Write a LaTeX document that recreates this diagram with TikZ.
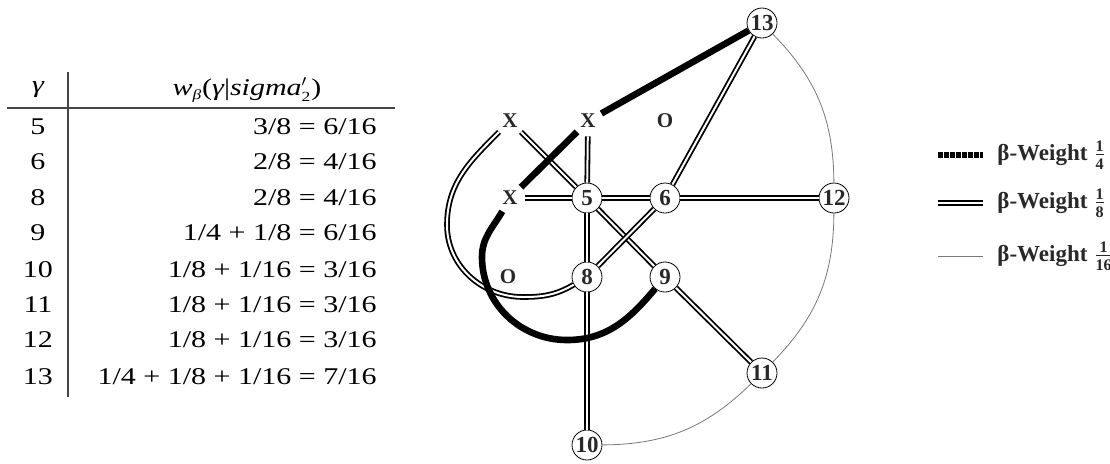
\documentclass[tikz,border=0pt]{standalone}
\usepackage{amsmath}
\usepackage{fontspec}
\setmainfont{Liberation Serif}
\newfontfamily\tabfont[FakeStretch=1.25]{Liberation Serif}
\usetikzlibrary{calc}
\definecolor{labelGray}{RGB}{40,40,40}
\definecolor{arcGray}{RGB}{120,120,120}
\definecolor{ruleGray}{RGB}{70,70,70}
\tikzset{
  vtx/.style={circle, draw, thin, fill=white, minimum size=15pt, inner sep=0pt, font=\bfseries\fontsize{11.5}{13}\selectfont, text=labelGray},
  xo/.style={circle, minimum size=15pt, inner sep=0pt, font=\bfseries\fontsize{10.5}{12}\selectfont, text=labelGray},
  wquarter/.style={line width=3.3pt},
  weighth/.style={double, double distance=1pt, line width=0.9pt},
  wsixteenth/.style={draw=arcGray, line width=0.4pt},
  tab/.style={font=\tabfont\fontsize{12}{14}\selectfont, inner sep=0pt},
  legtext/.style={anchor=west, inner sep=0pt, font=\bfseries\fontsize{11.5}{13}\selectfont, text=labelGray}
}

\begin{document}
\begin{tikzpicture}[x=0.5pt,y=0.5pt]
  \useasboundingbox (0,0) rectangle (1110,-463);

  % table of weights
  \node[tab] (hg) at (38,-90) {\itshape γ};
  \node[tab] (hw) at (247,-90) {\itshape w$_{\mbox{\scriptsize\itshape β}}$\upshape(\itshape γ\upshape|\itshape sigma$'_{\mbox{\scriptsize\upshape 2}}$\upshape)};
  \draw[ruleGray, line width=0.6pt] (7,-108) -- (395,-108);
  \draw[ruleGray, line width=0.6pt] (68,-72) -- (68,-397);

  \node[tab] (g5) at (38,-127) {5};
  \node[tab] (g6) at (38,-162) {6};
  \node[tab] (g8) at (38,-198) {8};
  \node[tab] (g9) at (38,-233) {9};
  \node[tab] (g10) at (38,-270) {10};
  \node[tab] (g11) at (38,-305) {11};
  \node[tab] (g12) at (38,-340) {12};
  \node[tab] (g13) at (38,-377) {13};

  \node[tab, anchor=east] (w5) at (377,-127) {3/8 = 6/16};
  \node[tab, anchor=east] (w6) at (377,-162) {2/8 = 4/16};
  \node[tab, anchor=east] (w8) at (377,-198) {2/8 = 4/16};
  \node[tab, anchor=east] (w9) at (377,-233) {1/4 + 1/8 = 6/16};
  \node[tab, anchor=east] (w10) at (377,-270) {1/8 + 1/16 = 3/16};
  \node[tab, anchor=east] (w11) at (377,-305) {1/8 + 1/16 = 3/16};
  \node[tab, anchor=east] (w12) at (377,-340) {1/8 + 1/16 = 3/16};
  \node[tab, anchor=east] (w13) at (377,-377) {1/4 + 1/8 + 1/16 = 7/16};

  % graph
  \node[xo] (x1) at (510,-121) {X};
  \node[xo] (x2) at (588,-121) {X};
  \node[xo] (otop) at (665,-121) {O};
  \node[xo] (x3) at (510,-198) {X};
  \node[xo] (oleft) at (508,-277) {O};
  \node[vtx] (n5) at (587,-198) {5};
  \node[vtx] (n6) at (665,-198) {6};
  \node[vtx] (n8) at (587,-277) {8};
  \node[vtx] (n9) at (665,-277) {9};
  \node[vtx] (n13) at (762,-23) {13};
  \node[vtx] (n12) at (834,-198) {12};
  \node[vtx] (n11) at (762,-373) {11};
  \node[vtx] (n10) at (587,-445) {10};

  \draw[wsixteenth] (n13) to[bend left=22] (n12);
  \draw[wsixteenth] (n12) to[bend left=22] (n11);
  \draw[wsixteenth] (n11) to[bend left=22] (n10);

  \draw[weighth] (x1) -- (n5);
  \draw[weighth] (x2) -- (n5);
  \draw[weighth] (x3) -- (n5);
  \draw[weighth] (n5) -- (n6);
  \draw[weighth] (n6) -- (n12);
  \draw[weighth] (n6) -- (n13);
  \draw[weighth] (n5) -- (n8);
  \draw[weighth] (n8) -- (n10);
  \draw[weighth] (n5) -- (n9);
  \draw[weighth] (n6) -- (n8);
  \draw[weighth] (n9) -- (n11);
  \draw[weighth] (x1) to[out=-135,in=90] (447,-225) to[out=-90,in=180] (523,-297) to[out=0,in=-150] (n8);

  \draw[wquarter] (n13) -- (x2);
  \draw[wquarter] (x2) -- (x3);
  \draw[wquarter] (x3) to[out=-120,in=90] (482,-257) to[out=-90,in=180] (567,-340) to[out=0,in=-130] (n9);

  % legend
  \coordinate (la) at (938,-155);
  \coordinate (lb) at (938,-203);
  \coordinate (lc) at (938,-256);
  \draw[wquarter, dash pattern=on 2.6pt off 0.4pt] (la) -- ++(45,0) coordinate (la2);
  \draw[weighth] (lb) -- ++(45,0) coordinate (lb2);
  \draw[wsixteenth] (lc) -- ++(45,0) coordinate (lc2);
  \node[legtext] (ta) at ($(la2)+(14,0)$) {β-Weight $\frac{\text{\bfseries 1}}{\text{\bfseries 4}}$};
  \node[legtext] (tb) at ($(lb2)+(14,0)$) {β-Weight $\frac{\text{\bfseries 1}}{\text{\bfseries 8}}$};
  \node[legtext] (tc) at ($(lc2)+(14,0)$) {β-Weight $\frac{\text{\bfseries 1}}{\text{\bfseries 16}}$};
\end{tikzpicture}
\end{document}
